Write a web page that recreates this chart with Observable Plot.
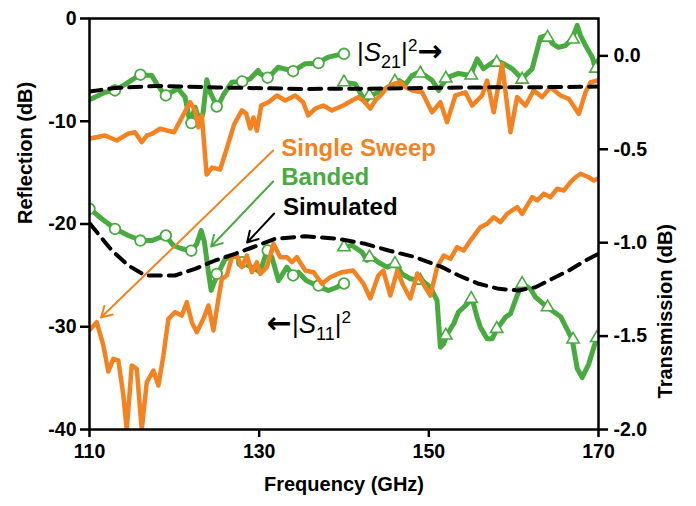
<!DOCTYPE html>
<html><head><meta charset="utf-8">
<script src="https://cdn.jsdelivr.net/npm/d3@7"></script>
<script src="https://cdn.jsdelivr.net/npm/@observablehq/plot@0.6"></script>
<style>
html,body{margin:0;padding:0;background:#fff;}
#chart{width:696px;height:506px;}
</style></head><body><div id="chart"></div>
<script>
// ---- axes ----
const xTicks = [110, 130, 150, 170];
const yLeftTicks = [0, -10, -20, -30, -40];
const yLeftLabels = ["0", "-10", "-20", "-30", "-40"];
const yRightTicks = [0, -0.5, -1, -1.5, -2];
const yRightLabels = ["0.0", "-0.5", "-1.0", "-1.5", "-2.0"];

// ---- |S21|^2 transmission (dB, right axis) ----
const s21Single = [[110.06,-0.442],[111.83,-0.426],[113.21,-0.453],[114.54,-0.417],[115.37,-0.409],[116.16,-0.462],[116.78,-0.426],[117.37,-0.417],[118.32,-0.390],[119.97,-0.409],[120.91,-0.328],[121.86,-0.248],[122.45,-0.292],[122.84,-0.382],[123.24,-0.319],[123.81,-0.635],[124.45,-0.598],[125.40,-0.608],[125.99,-0.524],[127.05,-0.367],[127.96,-0.292],[128.47,-0.309],[128.94,-0.389],[129.33,-0.330],[129.73,-0.400],[130.24,-0.266],[131.10,-0.248],[132.09,-0.212],[133.07,-0.239],[134.25,-0.212],[135.19,-0.248],[135.78,-0.319],[136.61,-0.282],[137.55,-0.266],[138.58,-0.292],[139.91,-0.266],[140.94,-0.239],[141.68,-0.221],[142.27,-0.239],[143.10,-0.282],[143.69,-0.239],[144.48,-0.203],[145.07,-0.168],[145.81,-0.150],[146.64,-0.141],[147.23,-0.168],[148.05,-0.185],[149.20,-0.195],[149.59,-0.230],[150.38,-0.302],[151.36,-0.248],[152.15,-0.355],[153.13,-0.212],[154.31,-0.195],[155.10,-0.266],[156.28,-0.212],[156.87,-0.132],[157.65,-0.302],[158.64,-0.043],[159.62,-0.409],[160.41,-0.221],[161.39,-0.266],[162.37,-0.185],[163.36,-0.221],[164.34,-0.168],[165.52,-0.212],[166.50,-0.230],[167.68,-0.311],[168.47,-0.195],[169.06,-0.141],[169.88,-0.132]];
const s21BandA = [[110.26,-0.230],[111.83,-0.195],[113.01,-0.185],[114.19,-0.153],[115.96,-0.101],[117.34,-0.105],[117.93,-0.150],[118.91,-0.212],[120.44,-0.176],[121.27,-0.221],[121.86,-0.360],[122.45,-0.275],[123.04,-0.357],[123.39,-0.303],[123.83,-0.128],[124.22,-0.196],[124.69,-0.239],[125.13,-0.271],[125.75,-0.212],[126.78,-0.141],[127.96,-0.137],[128.94,-0.123],[129.88,-0.078],[130.12,-0.096],[131.06,-0.117],[132.24,-0.061],[134.01,-0.082],[135.43,-0.042],[136.81,-0.039],[138.14,-0.007],[139.91,0.011]];
const s21BandB = [[139.95,-0.141],[141.33,-0.150],[142.51,-0.248],[143.10,-0.212],[144.04,-0.196],[145.26,-0.168],[146.44,-0.132],[147.23,-0.153],[148.02,-0.105],[148.76,-0.089],[149.59,-0.105],[150.41,-0.132],[151.16,-0.185],[152.15,-0.116],[153.48,-0.094],[154.90,-0.105],[155.69,-0.016],[156.43,-0.069],[157.85,-0.025],[158.79,-0.041],[159.82,-0.069],[161.00,-0.123],[162.18,-0.069],[163.16,0.100],[163.95,0.109],[164.57,0.066],[165.28,0.046],[166.11,0.055],[166.90,0.091],[167.49,0.163],[167.88,0.109],[168.47,0.055],[169.26,-0.007],[169.65,-0.069],[169.94,-0.025]];
const s21BandAMarks = [[113,-0.185],[116,-0.101],[119,-0.212],[122,-0.360],[125,-0.271],[128,-0.137],[131,-0.117],[134,-0.082],[137,-0.039],[140,0.011]];
const s21BandBMarks = [[140,-0.141],[143,-0.212],[146,-0.137],[149,-0.094],[152,-0.121],[155,-0.105],[158,-0.036],[161,-0.127],[164,0.098],[167,0.088],[169.7,-0.068]];
const s21Sim = [[110,-0.191],[113,-0.172],[118,-0.161],[125,-0.169],[135,-0.177],[145,-0.175],[155,-0.169],[165,-0.167],[170,-0.164]];

// ---- |S11|^2 reflection (dB, left axis) ----
const s11Single = [[110.06,-30.27],[110.85,-29.56],[111.63,-31.82],[112.22,-34.36],[112.81,-33.12],[113.40,-33.28],[113.99,-36.69],[114.39,-40],[114.98,-33.77],[115.57,-34.09],[116.16,-40],[116.75,-35.40],[117.53,-34.26],[118.12,-35.72],[118.71,-32.80],[119.30,-29.23],[120.09,-28.58],[120.88,-28.91],[121.47,-27.61],[122.06,-29.56],[122.65,-30.53],[123.43,-29.23],[124.02,-27.93],[124.61,-30.36],[125.20,-27.28],[125.60,-25.33],[126.19,-25.01],[126.78,-23.23],[127.37,-23.07],[127.96,-24.20],[128.55,-23.07],[129.14,-24.69],[129.73,-23.72],[130.12,-24.85],[130.91,-24.20],[131.69,-21.93],[132.48,-23.23],[133.27,-23.23],[133.86,-23.72],[134.45,-23.23],[135.43,-24.53],[136.41,-24.69],[137.40,-25.82],[138.38,-25.18],[139.76,-24.69],[141.09,-24.53],[142.27,-25.77],[143.10,-27.25],[144.04,-25.01],[144.63,-24.53],[145.46,-26.96],[146.28,-24.53],[146.99,-25.99],[147.82,-27.25],[148.64,-24.82],[149.47,-25.99],[150.18,-26.96],[151.00,-24.14],[151.75,-23.07],[152.54,-23.39],[153.33,-22.26],[154.11,-22.58],[154.90,-21.61],[156.08,-20.31],[156.87,-19.98],[157.65,-19.34],[158.44,-19.82],[159.23,-19.01],[160.41,-18.36],[161.00,-19.01],[162.18,-17.39],[162.77,-17.71],[163.55,-17.06],[164.34,-17.39],[165.13,-16.57],[165.91,-16.74],[166.70,-15.93],[167.29,-15.45],[167.88,-15.11],[168.86,-15.45],[169.45,-15.77],[169.88,-15.60]];
const s11BandA = [[110.06,-18.52],[111.44,-19.49],[113.01,-20.47],[114.58,-21.12],[116.08,-21.61],[117.34,-21.61],[118.91,-21.12],[119.89,-22.09],[120.88,-22.41],[122.0,-22.60],[122.65,-21.93],[123.16,-20.63],[123.55,-21.77],[124.02,-24.69],[124.34,-26.47],[124.69,-25.69],[125.13,-24.85],[125.99,-23.39],[127.17,-23.07],[127.96,-23.72],[129.14,-24.20],[130.12,-24.69],[130.91,-22.58],[131.50,-23.23],[132.28,-25.50],[133.27,-24.20],[134.01,-25.01],[134.64,-24.69],[135.55,-25.50],[136.81,-25.99],[138.14,-26.47],[139.09,-26.18],[139.91,-25.79]];
const s11BandB = [[139.95,-22.26],[140.94,-22.09],[142.12,-22.74],[142.71,-23.55],[143.30,-23.23],[144.04,-23.72],[145.07,-24.20],[146.05,-23.87],[146.84,-24.85],[147.82,-25.33],[149.20,-25.50],[150.18,-26.15],[150.97,-27.45],[151.36,-31.99],[151.75,-31.66],[152.07,-30.85],[152.93,-29.71],[153.48,-28.58],[154.11,-28.10],[155.10,-27.28],[155.69,-29.07],[156.08,-30.04],[156.87,-31.17],[157.46,-31.17],[158.05,-30.20],[159.03,-29.07],[159.62,-28.74],[160.41,-26.96],[161.00,-25.82],[161.98,-26.31],[162.57,-27.12],[163.95,-28.10],[165.52,-29.00],[166.90,-31.24],[167.49,-34.06],[168.08,-34.94],[168.86,-33.61],[169.45,-31.99],[169.85,-31.09]];
const s11BandAMarks = [[110,-18.52],[113,-20.47],[116,-21.61],[119,-21.12],[122,-22.60],[125,-24.85],[128,-23.72],[131,-22.58],[134,-25.01],[137,-25.99],[140,-25.79]];
const s11BandBMarks = [[140,-22.26],[143,-23.23],[146,-23.87],[149,-25.50],[152,-30.85],[155,-27.28],[158,-30.20],[161,-25.82],[164,-28.10],[167,-31.24],[169.8,-31.09]];
const s11Sim = [[110.06,-19.98],[111.83,-21.77],[112.65,-22.58],[114.58,-24.04],[116.55,-25.01],[117.34,-25.01],[120.09,-25.01],[122.45,-24.36],[124.81,-23.55],[127.17,-22.90],[128.94,-22.36],[131.89,-21.44],[135.43,-21.19],[139.36,-21.44],[142.51,-21.93],[145.26,-22.58],[148.41,-23.23],[151.56,-24.20],[153.52,-25.01],[155.88,-25.82],[158.24,-26.31],[160.60,-26.47],[162.57,-26.15],[164.54,-25.33],[166.50,-24.53],[168.47,-23.55],[170,-22.90]];

// ---- helpers ----
const ORANGE = "#F58220", GREEN = "#47AB3F";
const FONT = "'Liberation Sans', Arial, sans-serif";
const rightToLeft = r => (r - 0.2) / 2.2 * 40;   // right axis [-2, 0.2] onto left axis [-40, 0]
const L = arr => arr.map(([f, v]) => ({f, v}));
const R = arr => arr.map(([f, v]) => ({f, v: rightToLeft(v)}));
const nearestLabel = (ticks, labels, conv) => d => {
  let best = 0;
  ticks.forEach((t, i) => { if (Math.abs(conv(t) - d) < Math.abs(conv(ticks[best]) - d)) best = i; });
  return labels[best];
};
const lineOpts = (color, w) => ({x: "f", y: "v", stroke: color, strokeWidth: w, strokeLinejoin: "round", strokeLinecap: "round", clip: true});
const dashOpts = {x: "f", y: "v", stroke: "black", strokeWidth: 4, strokeDasharray: "12,8", clip: true};
const circ = {x: "f", y: "v", symbol: "circle", r: 5.3, fill: "white", stroke: GREEN, strokeWidth: 1.8, clip: true};
const tri = {x: "f", y: "v", symbol: "triangle", r: 4.6, fill: "white", stroke: GREEN, strokeWidth: 1.6, clip: true};

const chart = Plot.plot({
  width: 696, height: 506,
  marginLeft: 89, marginRight: 98, marginTop: 18, marginBottom: 77,
  style: {fontFamily: FONT, background: "white", overflow: "visible"},
  x: {domain: [110, 170]},
  y: {domain: [-40, 0]},
  marks: [
    // banded (green)
    Plot.line(L(s11BandA), lineOpts(GREEN, 5)),
    Plot.line(L(s11BandB), lineOpts(GREEN, 5)),
    Plot.line(R(s21BandA), lineOpts(GREEN, 5)),
    Plot.line(R(s21BandB), lineOpts(GREEN, 5)),
    Plot.dot(L(s11BandAMarks), circ),
    Plot.dot(R(s21BandAMarks), circ),
    Plot.dot(L(s11BandBMarks), tri),
    Plot.dot(R(s21BandBMarks), tri),
    // single sweep (orange)
    Plot.line(L(s11Single), lineOpts(ORANGE, 4.5)),
    Plot.line(R(s21Single), lineOpts(ORANGE, 4.5)),
    // simulated (dashed)
    Plot.line(L(s11Sim), dashOpts),
    Plot.line(R(s21Sim), dashOpts),
    // annotations
    Plot.arrow([0], {x1: () => 131.65, y1: () => -12.85, x2: () => 111.36, y2: () => -29.1, stroke: ORANGE, strokeWidth: 2, headLength: 9}),
    Plot.arrow([0], {x1: () => 131.65, y1: () => -15.86, x2: () => 124.34, y2: () => -22.19, stroke: GREEN, strokeWidth: 2, headLength: 9}),
    Plot.arrow([0], {x1: () => 131.77, y1: () => -18.98, x2: () => 128.58, y2: () => -21.8, stroke: "black", strokeWidth: 2, headLength: 9}),
    Plot.text(["Single Sweep"], {x: () => 132.6, y: () => -12.65, text: d => d, fill: ORANGE, fontSize: 24, fontWeight: "bold", textAnchor: "start", lineAnchor: "middle"}),
    Plot.text(["Banded"], {x: () => 132.6, y: () => -15.47, text: d => d, fill: GREEN, fontSize: 24, fontWeight: "bold", textAnchor: "start", lineAnchor: "middle"}),
    Plot.text(["Simulated"], {x: () => 132.8, y: () => -18.39, text: d => d, fill: "black", fontSize: 24, fontWeight: "bold", textAnchor: "start", lineAnchor: "middle"}),
    Plot.text(["S21LABEL"], {x: () => 141.53, y: () => -3.31, text: d => d, fill: "black", fontSize: 26, textAnchor: "start", lineAnchor: "middle"}),
    Plot.text(["S11LABEL"], {x: () => 130.9, y: () => -29.78, text: d => d, fill: "black", fontSize: 26, textAnchor: "start", lineAnchor: "middle"}),
    // axis titles
    Plot.text(["Reflection (dB)"], {frameAnchor: "left", dx: -64, rotate: -90, text: d => d, fontSize: 20, fontWeight: "bold", fill: "black"}),
    Plot.text(["Transmission (dB)"], {frameAnchor: "right", dx: 67, rotate: -90, text: d => d, fontSize: 20, fontWeight: "bold", fill: "black"}),
    Plot.text(["Frequency (GHz)"], {frameAnchor: "bottom", dy: 61, text: d => d, fontSize: 20, fontWeight: "bold", fill: "black"}),
    // axes
    Plot.axisX({ticks: xTicks, tickFormat: d => String(d), tickSize: 8, tickPadding: 7, fontSize: 19.5, fontWeight: "bold", fill: "black", stroke: "black", strokeWidth: 2.5, label: null}),
    Plot.axisY({anchor: "left", ticks: yLeftTicks, tickFormat: nearestLabel(yLeftTicks, yLeftLabels, t => t), tickSize: 9, tickPadding: 4, fontSize: 19.5, fontWeight: "bold", fill: "black", stroke: "black", strokeWidth: 2.5, label: null}),
    Plot.axisY({anchor: "right", ticks: yRightTicks.map(rightToLeft), tickFormat: nearestLabel(yRightTicks, yRightLabels, rightToLeft), tickSize: 9, tickPadding: 6, fontSize: 19.5, fontWeight: "bold", fill: "black", stroke: "black", strokeWidth: 2.5, label: null}),
    Plot.frame({stroke: "black", strokeWidth: 2.5})
  ]
});

// rich text for |S21|^2 and |S11|^2 labels
function richLabel(el, sub, arrowBefore) {
  const t = d3.select(el);
  t.text(null);
  const arrow = ch => t.append("tspan").attr("font-family", "DejaVu Sans").attr("font-weight", "bold").attr("font-size", "30px").text(ch);
  if (arrowBefore) { arrow("\u2190"); }
  t.append("tspan").text("|");
  t.append("tspan").attr("font-style", "italic").text("S");
  t.append("tspan").attr("font-size", "18px").attr("dy", "7").text(sub);
  t.append("tspan").attr("dy", "-7").text("|");
  t.append("tspan").attr("font-size", "17px").attr("dy", "-10").text("2");
  if (!arrowBefore) arrow("\u2192").attr("dy", "10");
}
d3.select(chart).selectAll("text").each(function () {
  if (this.textContent === "S21LABEL") richLabel(this, "21", false);
  else if (this.textContent === "S11LABEL") richLabel(this, "11", true);
});

document.getElementById("chart").appendChild(chart);
</script>
</body></html>
